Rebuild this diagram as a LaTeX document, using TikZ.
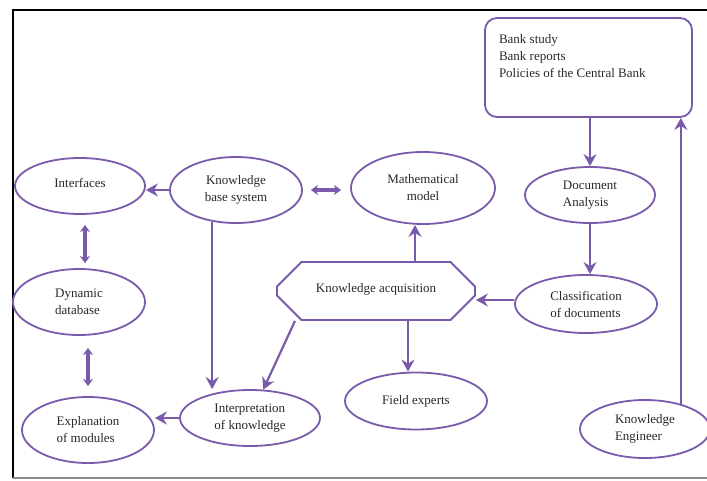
\documentclass[tikz,border=0pt]{standalone}
\usepackage{fontspec}
\setmainfont{Liberation Serif}
\usetikzlibrary{arrows.meta,shapes.geometric,shapes.misc}
\definecolor{violetline}{RGB}{122,90,170}
\definecolor{labeltext}{RGB}{40,40,40}
\begin{document}
\begin{tikzpicture}[x=1pt,y=-1pt,
  every node/.style={font=\fontsize{13}{17}\selectfont, text=labeltext},
  oval/.style={ellipse, draw=violetline, line width=1.8pt, inner sep=0pt},
  arr/.style={draw=violetline, line width=2.2pt, -{Stealth[length=12pt,width=13pt,inset=4pt]}},
  dbl/.style={draw=violetline, line width=3.6pt, {Stealth[length=7pt,width=10pt,inset=2pt]}-{Stealth[length=7pt,width=10pt,inset=2pt]}}
]
\useasboundingbox (0,0) rectangle (707,480);
% outer frame
\draw[line width=2pt, black] (13,478) -- (13,10) -- (707,10);
\draw[line width=1.4pt, black!45] (13,478) -- (707,478);

% source documents
\node[draw=violetline, line width=1.8pt, rounded corners=12pt, inner sep=0pt,
      minimum width=207pt, minimum height=99pt] (bank) at (588.5,67.5)
  {\parbox[t][66pt][t]{179pt}{Bank study\\Bank reports\\Policies of the Central Bank}};

% ellipses
\node[oval, minimum width=130pt, minimum height=56pt] (interfaces) at (80,186) {\raisebox{6pt}{Interfaces}};
\node[oval, minimum width=132pt, minimum height=66pt, align=center] (kbs) at (236,190) {Knowledge\\base system};
\node[oval, minimum width=144pt, minimum height=72pt, align=center] (math) at (423,188) {Mathematical\\model};
\node[oval, minimum width=130pt, minimum height=56pt, align=left] (doc) at (590,195) {Document\\Analysis};
\node[oval, minimum width=132pt, minimum height=66pt, align=left] (dyn) at (79,302) {Dynamic\\database};
\node[oval, minimum width=142pt, minimum height=58pt, align=left] (class) at (586,304) {Classification\\of documents};
\node[oval, minimum width=132pt, minimum height=66pt, align=left] (expl) at (88,430) {Explanation\\of modules};
\node[oval, minimum width=140pt, minimum height=56pt, align=left] (interp) at (250,418) {Interpretation\\of knowledge};
\node[oval, minimum width=142pt, minimum height=57pt] (field) at (416,401) {Field experts};
\node[oval, minimum width=130pt, minimum height=58pt, align=left] (ke) at (645,429) {Knowledge\\Engineer};

% knowledge acquisition (octagon)
\node[chamfered rectangle, draw=violetline, line width=1.8pt, inner sep=0pt,
      chamfered rectangle xsep=18pt, chamfered rectangle ysep=17pt,
      minimum width=198pt, minimum height=58pt] (ka) at (376,291)
  {\raisebox{6pt}{Knowledge acquisition}};

% connectors
\draw[arr] (kbs.west) -- (kbs.west -| interfaces.east);
\draw[dbl, shorten <=8pt, shorten >=9pt] (kbs.east) -- (kbs.east -| math.west);
\draw[dbl, shorten <=10pt, shorten >=5pt] ([xshift=5pt]interfaces.south) -- ([xshift=6pt]dyn.north);
\draw[dbl, shorten <=12pt, shorten >=10pt] ([xshift=9pt]dyn.south) -- (expl.north);
\draw[arr] (interp.west) -- (interp.west -| expl.east);
\draw[arr] (kbs.233) -- (kbs.233 |- interp.north);
\draw[arr] ([xshift=-8pt]ka.north -| math.south) -- ([xshift=-8pt]math.south);
\draw[arr] ([xshift=-8pt]field.north |- ka.south) -- ([xshift=-8pt]field.north);
\draw[arr] ([xshift=-81pt]ka.south) -- (interp.65);
\draw[arr] (bank.south -| doc.north) -- (doc.north);
\draw[arr] (doc.south) -- (doc.south |- class.north);
\draw[arr] ([yshift=4pt]class.west) -- ([yshift=4pt]class.west -| ka.east);
\draw[arr] (ke.35) -- (ke.35 |- bank.south);
\end{tikzpicture}
\end{document}
